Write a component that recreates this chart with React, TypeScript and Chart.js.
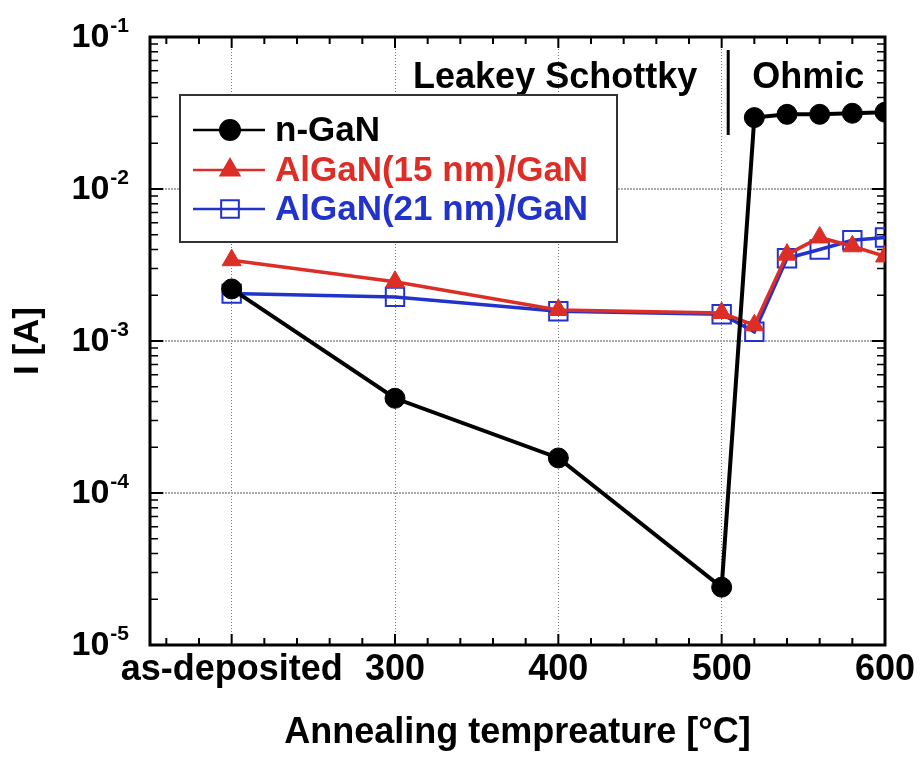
import React, { useEffect, useRef } from 'react';
import { Chart, registerables } from 'chart.js';

Chart.register(...registerables);

// ---------- data ----------
const TEMPERATURES = [200, 300, 400, 500, 520, 540, 560, 580, 600];
const N_GAN = [2.2e-3, 4.2e-4, 1.7e-4, 2.4e-5, 2.95e-2, 3.1e-2, 3.1e-2, 3.15e-2, 3.2e-2];
const ALGAN_15 = [3.4e-3, 2.45e-3, 1.6e-3, 1.53e-3, 1.27e-3, 3.7e-3, 4.8e-3, 4.2e-3, 3.6e-3];
const ALGAN_21 = [2.05e-3, 1.95e-3, 1.57e-3, 1.5e-3, 1.15e-3, 3.5e-3, 4.0e-3, 4.6e-3, 4.8e-3];
const SERIES_LABELS = ['n-GaN', 'AlGaN(15 nm)/GaN', 'AlGaN(21 nm)/GaN'];
const X_MAJOR_TICKS = [200, 300, 400, 500, 600];
const X_TICK_LABELS = ['as-deposited', '300', '400', '500', '600'];
const X_MINOR_STEP = 20;
const Y_EXPONENTS = [-5, -4, -3, -2, -1];
const REGION_LABELS = ['Leakey Schottky', 'Ohmic'];
const REGION_BOUNDARY = 504;
const X_TITLE = 'Annealing tempreature [°C]';
const Y_TITLE = 'I [A]';

const FONT = "'Liberation Sans', Arial, Helvetica, sans-serif";
const BLACK = '#000000';
const RED = '#dc2e26';
const BLUE = '#2233cc';

function drawMarker(ctx: CanvasRenderingContext2D, style: string, x: number, y: number, r: number, color: string, fill: boolean) {
  ctx.save();
  ctx.beginPath();
  if (style === 'circle') {
    ctx.arc(x, y, r, 0, Math.PI * 2);
  } else if (style === 'triangle') {
    let rad = 0;
    ctx.moveTo(x + Math.sin(rad) * r, y - Math.cos(rad) * r);
    rad += (2 * Math.PI) / 3;
    ctx.lineTo(x + Math.sin(rad) * r, y - Math.cos(rad) * r);
    rad += (2 * Math.PI) / 3;
    ctx.lineTo(x + Math.sin(rad) * r, y - Math.cos(rad) * r);
    ctx.closePath();
  } else {
    const s = Math.SQRT1_2 * r;
    ctx.rect(x - s, y - s, 2 * s, 2 * s);
  }
  if (fill) {
    ctx.fillStyle = color;
    ctx.fill();
  }
  ctx.strokeStyle = color;
  ctx.lineWidth = 2;
  ctx.stroke();
  ctx.restore();
}

const decorPlugin = {
  id: 'decor',
  beforeDatasetsDraw(chart: any) {
    const { ctx, chartArea: a, scales } = chart;
    const xs = scales.x;
    const ys = scales.y;
    ctx.save();

    // inward tick marks (x: bottom & top)
    ctx.strokeStyle = BLACK;
    ctx.lineWidth = 2;
    for (let v = xs.min + 10; v <= xs.max; v += X_MINOR_STEP) {
      const px = xs.getPixelForValue(v);
      const len = X_MAJOR_TICKS.includes(v) ? 11 : 7;
      ctx.beginPath();
      ctx.moveTo(px, a.bottom);
      ctx.lineTo(px, a.bottom - len);
      ctx.moveTo(px, a.top);
      ctx.lineTo(px, a.top + len);
      ctx.stroke();
    }
    // inward tick marks (y: left & right, log minor)
    for (let i = 0; i < Y_EXPONENTS.length; i++) {
      const e = Y_EXPONENTS[i];
      const base = Math.pow(10, e);
      const py = ys.getPixelForValue(base);
      ctx.lineWidth = 2;
      ctx.beginPath();
      ctx.moveTo(a.left, py);
      ctx.lineTo(a.left + 13, py);
      ctx.moveTo(a.right, py);
      ctx.lineTo(a.right - 13, py);
      ctx.stroke();
      if (i < Y_EXPONENTS.length - 1) {
        ctx.lineWidth = 1.5;
        for (let k = 2; k <= 9; k++) {
          const p = ys.getPixelForValue(k * base);
          ctx.beginPath();
          ctx.moveTo(a.left, p);
          ctx.lineTo(a.left + 8, p);
          ctx.moveTo(a.right, p);
          ctx.lineTo(a.right - 8, p);
          ctx.stroke();
        }
      }
    }

    // frame
    ctx.lineWidth = 3;
    ctx.strokeStyle = BLACK;
    ctx.strokeRect(a.left, a.top, a.right - a.left, a.bottom - a.top);

    // y tick labels 10^n
    ctx.fillStyle = BLACK;
    ctx.textBaseline = 'middle';
    ctx.textAlign = 'right';
    for (const e of Y_EXPONENTS) {
      const py = ys.getPixelForValue(Math.pow(10, e));
      const expText = String(e);
      ctx.font = `bold 21px ${FONT}`;
      const ew = ctx.measureText(expText).width;
      const right = a.left - 21;
      ctx.fillText(expText, right, py - 11);
      ctx.font = `bold 34px ${FONT}`;
      ctx.fillText('10', right - ew - 1, py + 1);
    }

    // region divider and labels
    const bx = xs.getPixelForValue(REGION_BOUNDARY);
    ctx.lineWidth = 3;
    ctx.beginPath();
    ctx.moveTo(bx, a.top + 13);
    ctx.lineTo(bx, a.top + 98);
    ctx.stroke();
    ctx.font = `bold 36px ${FONT}`;
    ctx.textBaseline = 'alphabetic';
    ctx.textAlign = 'right';
    ctx.fillText(REGION_LABELS[0], bx - 31, a.top + 51);
    ctx.textAlign = 'left';
    ctx.fillText(REGION_LABELS[1], bx + 24, a.top + 51);
    ctx.restore();
  },
  afterDatasetsDraw(chart: any) {
    const { ctx, chartArea: a } = chart;
    const left = a.left + 30;
    const top = a.top + 58;
    const w = 437;
    const h = 147;
    ctx.save();
    ctx.fillStyle = '#ffffff';
    ctx.fillRect(left, top, w, h);
    ctx.strokeStyle = '#333333';
    ctx.lineWidth = 2;
    ctx.strokeRect(left, top, w, h);
    const rows = [35, 75, 114];
    const markers = ['circle', 'triangle', 'rect'];
    const radii = [10, 11, 12.5];
    const fills = [true, true, false];
    chart.data.datasets.forEach((ds: any, i: number) => {
      const y = top + rows[i];
      const color = ds.borderColor;
      ctx.strokeStyle = color;
      ctx.lineWidth = 2.5;
      ctx.beginPath();
      ctx.moveTo(left + 13, y);
      ctx.lineTo(left + 85, y);
      ctx.stroke();
      drawMarker(ctx, markers[i], left + 50, y, radii[i], color, fills[i]);
      ctx.fillStyle = color;
      ctx.font = `bold 35px ${FONT}`;
      ctx.textAlign = 'left';
      ctx.textBaseline = 'middle';
      ctx.fillText(ds.label, left + 95, y + 1);
    });
    ctx.restore();
  },
};

export default function App() {
  const canvasRef = useRef<HTMLCanvasElement | null>(null);

  useEffect(() => {
    document.body.style.margin = '0';
    const canvas = canvasRef.current;
    if (!canvas) return;
    const toPoints = (vals: number[]) => TEMPERATURES.map((t, i) => ({ x: t, y: vals[i] }));
    const chart = new Chart(canvas, {
      type: 'line',
      data: {
        datasets: [
          {
            label: SERIES_LABELS[0],
            data: toPoints(N_GAN),
            borderColor: BLACK,
            backgroundColor: BLACK,
            borderWidth: 4,
            pointStyle: 'circle',
            pointRadius: 10,
            pointBackgroundColor: BLACK,
            pointBorderColor: BLACK,
            pointBorderWidth: 1,
            tension: 0,
          },
          {
            label: SERIES_LABELS[1],
            data: toPoints(ALGAN_15),
            borderColor: RED,
            backgroundColor: RED,
            borderWidth: 3.5,
            pointStyle: 'triangle',
            pointRadius: 11,
            pointBackgroundColor: RED,
            pointBorderColor: RED,
            pointBorderWidth: 1,
            tension: 0,
          },
          {
            label: SERIES_LABELS[2],
            data: toPoints(ALGAN_21),
            borderColor: BLUE,
            backgroundColor: BLUE,
            borderWidth: 3.5,
            pointStyle: 'rect',
            pointRadius: 13,
            pointBackgroundColor: 'rgba(0,0,0,0)',
            pointBorderColor: BLUE,
            pointBorderWidth: 2,
            tension: 0,
          },
        ],
      },
      options: {
        animation: false,
        responsive: false,
        devicePixelRatio: 1,
        layout: { padding: { left: 0, top: 37, right: 35, bottom: 0 } },
        plugins: { legend: { display: false }, tooltip: { enabled: false } },
        scales: {
          x: {
            type: 'linear',
            min: 150,
            max: 600,
            afterBuildTicks: (s: any) => {
              s.ticks = X_MAJOR_TICKS.map((v) => ({ value: v }));
            },
            afterFit: (s: any) => {
              s.height = 115;
            },
            ticks: {
              autoSkip: false,
              maxRotation: 0,
              minRotation: 0,
              padding: 3,
              color: BLACK,
              font: { family: FONT, size: 36, weight: 'bold' },
              callback: (v: any) => {
                const idx = X_MAJOR_TICKS.indexOf(Number(v));
                return idx >= 0 ? X_TICK_LABELS[idx] : '';
              },
            },
            grid: { drawTicks: false, color: '#777777', lineWidth: 1 },
            border: { display: false, dash: [1, 2] },
            title: {
              display: true,
              text: X_TITLE,
              color: BLACK,
              font: { family: FONT, size: 36, weight: 'bold' },
              padding: { top: 0, bottom: 5 },
            },
          },
          y: {
            type: 'logarithmic',
            min: 1e-5,
            max: 1e-1,
            afterBuildTicks: (s: any) => {
              s.ticks = Y_EXPONENTS.map((e) => ({ value: Math.pow(10, e) }));
            },
            afterFit: (s: any) => {
              s.width = 150;
            },
            ticks: { display: false },
            grid: { drawTicks: false, color: '#aaaaaa', lineWidth: 2 },
            border: { display: false, dash: [2, 1] },
            title: {
              display: true,
              text: Y_TITLE,
              color: BLACK,
              font: { family: FONT, size: 35, weight: 'bold' },
              padding: { top: 7, bottom: 0 },
            },
          },
        },
      } as any,
      plugins: [decorPlugin],
    });
    return () => chart.destroy();
  }, []);

  return (
    <div style={{ width: 920, height: 760 }}>
      <canvas ref={canvasRef} width={920} height={760} style={{ display: 'block' }} />
    </div>
  );
}
